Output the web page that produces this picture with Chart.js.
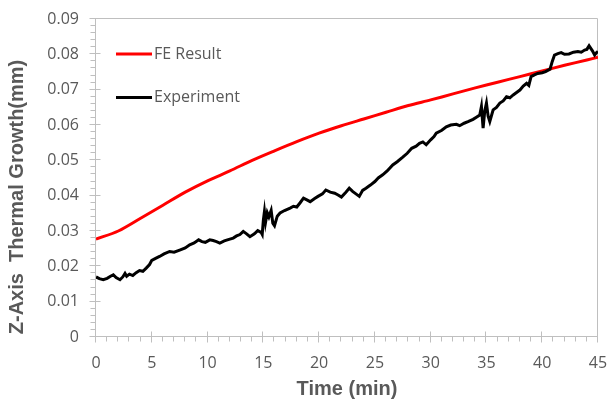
<!DOCTYPE html>
<html><head><meta charset="utf-8">
<script src="https://cdn.jsdelivr.net/npm/chart.js@4"></script>
<style>html,body{margin:0;padding:0;background:#fff}canvas{display:block}</style>
</head><body>
<canvas id="c" width="609" height="403"></canvas>
<script>
// ---- data ----
const feTime  = [0, 2, 4, 6, 8, 10, 12, 14, 16, 18, 20, 22, 24, 26, 28, 30, 32, 34, 36, 38, 40, 42, 44, 45];
const feValue = [0.0277, 0.0300, 0.0336, 0.0373, 0.0410, 0.0442, 0.0470, 0.0500, 0.0527, 0.0553, 0.0577, 0.0598, 0.0617, 0.0636, 0.0655, 0.0671, 0.0688, 0.0705, 0.0721, 0.0737, 0.0753, 0.0769, 0.0784, 0.0792];

const expTime = [0.0,0.3,0.65,1.0,1.3,1.55,1.8,2.15,2.4,2.6,2.75,3.0,3.3,3.6,3.9,4.2,4.5,4.8,5.0,5.3,5.7,6.1,6.6,7.0,7.5,8.0,8.4,8.8,9.2,9.5,9.8,10.2,10.5,10.8,11.1,11.5,12.0,12.3,12.6,12.9,13.2,13.5,13.8,14.2,14.5,14.8,14.9,15.0,15.1,15.2,15.35,15.5,15.7,15.85,16.0,16.25,16.5,16.9,17.4,17.7,18.0,18.3,18.6,18.9,19.2,19.6,19.9,20.3,20.6,21.0,21.4,21.7,22.0,22.4,22.7,23.0,23.3,23.6,23.9,24.2,24.6,25.0,25.3,25.7,26.1,26.6,27.0,27.5,27.9,28.3,28.7,29.0,29.3,29.6,30.0,30.3,30.5,31.0,31.4,31.8,32.3,32.6,33.0,33.4,33.8,34.1,34.4,34.55,34.7,34.85,35.0,35.15,35.3,35.6,35.9,36.2,36.5,36.8,37.1,37.4,37.7,38.0,38.3,38.6,38.8,39.0,39.3,39.6,40.0,40.3,40.7,40.9,41.1,41.4,41.7,42.0,42.4,42.8,43.2,43.5,43.8,44.0,44.2,44.5,44.7,44.85,45.0];
const expValue = [0.0170,0.0165,0.0162,0.0166,0.0172,0.0176,0.0168,0.0162,0.0170,0.0180,0.0172,0.0178,0.0174,0.0182,0.0188,0.0186,0.0195,0.0205,0.0217,0.0222,0.0228,0.0235,0.0242,0.0240,0.0246,0.0252,0.0261,0.0266,0.0275,0.0270,0.0268,0.0275,0.0273,0.0270,0.0266,0.0272,0.0277,0.0280,0.0286,0.0290,0.0299,0.0292,0.0284,0.0292,0.0301,0.0296,0.0290,0.0330,0.0355,0.0325,0.0352,0.0340,0.0358,0.0322,0.0315,0.0342,0.0351,0.0358,0.0365,0.0370,0.0368,0.0380,0.0393,0.0388,0.0383,0.0392,0.0398,0.0405,0.0416,0.0410,0.0407,0.0402,0.0396,0.0410,0.0421,0.0412,0.0405,0.0398,0.0415,0.0421,0.0430,0.0440,0.0450,0.0459,0.0470,0.0487,0.0496,0.0509,0.0520,0.0534,0.0540,0.0548,0.0552,0.0544,0.0558,0.0567,0.0577,0.0585,0.0595,0.0600,0.0602,0.0598,0.0605,0.0610,0.0616,0.0622,0.0628,0.0652,0.0591,0.0640,0.0662,0.0625,0.0610,0.0643,0.0650,0.0662,0.0668,0.0680,0.0677,0.0685,0.0692,0.0699,0.0710,0.0718,0.0712,0.0737,0.0742,0.0746,0.0748,0.0751,0.0758,0.0780,0.0798,0.0802,0.0805,0.0800,0.0801,0.0806,0.0808,0.0806,0.0812,0.0814,0.0824,0.0810,0.0798,0.0804,0.0808];

const seriesNames = ['FE Result', 'Experiment'];
const xTitle = 'Time (min)';
const yTitle = 'Z-Axis  Thermal Growth(mm)';
const xMin = 0, xMax = 45, xStep = 5, xMinor = 1;
const yMin = 0, yMax = 0.09, yStep = 0.01, yMinor = 0.002;

// ---- styles ----
const AXIS = '#bfbfbf';
const TEXT = '#595959';
const RED = '#ff0000';
const BLACK = '#000000';

const toPts = (xs, ys) => xs.map((t, i) => ({x: t, y: ys[i]}));

const axesPlugin = {
  id: 'axesPlugin',
  beforeDatasetsDraw(chart) {
    const {ctx, chartArea: a, scales: {x, y}} = chart;
    ctx.save();
    ctx.strokeStyle = AXIS;
    ctx.lineWidth = 1;
    const L = Math.round(a.left) - 0.5, R = Math.round(a.right) - 0.5;
    const T = Math.round(a.top) - 0.5, B = Math.round(a.bottom) - 0.5;
    ctx.beginPath();
    ctx.rect(L, T, R - L, B - T);
    const nx = Math.round((xMax - xMin) / xMinor);
    for (let i = 0; i <= nx; i++) {
      const v = xMin + i * xMinor;
      const px = Math.round(x.getPixelForValue(v)) - 0.5;
      const major = Math.abs(v / xStep - Math.round(v / xStep)) < 1e-9;
      ctx.moveTo(px, major ? B - 5 : B);
      ctx.lineTo(px, B + (major ? 6 : 5));
    }
    const ny = Math.round((yMax - yMin) / yMinor);
    for (let i = 0; i <= ny; i++) {
      const v = yMin + i * yMinor;
      const py = Math.round(y.getPixelForValue(v)) - 0.5;
      const major = i % Math.round(yStep / yMinor) === 0;
      ctx.moveTo(L - (major ? 6 : 5), py);
      ctx.lineTo(major ? L + 5 : L, py);
    }
    ctx.stroke();
    ctx.restore();
  },
  afterDraw(chart) {
    const {ctx, chartArea: a} = chart;
    ctx.save();
    const ds = chart.data.datasets;
    ds.forEach((d, i) => {
      const ly = a.top + 35 + i * 43.5;
      const lx = a.left + 20;
      ctx.strokeStyle = d.borderColor;
      ctx.lineWidth = 3;
      ctx.beginPath();
      ctx.moveTo(lx, ly);
      ctx.lineTo(lx + 36, ly);
      ctx.stroke();
      ctx.fillStyle = TEXT;
      ctx.font = '16px "Open Sans"';
      ctx.textAlign = 'left';
      ctx.textBaseline = 'middle';
      ctx.fillText(d.label, lx + 38, ly);
    });
    ctx.translate(17.5, (a.top + a.bottom) / 2 + 19);
    ctx.rotate(-Math.PI / 2);
    ctx.fillStyle = TEXT;
    ctx.font = 'bold 20px "Liberation Sans"';
    ctx.textAlign = 'center';
    ctx.textBaseline = 'middle';
    ctx.fillText(yTitle, 0, 0);
    ctx.restore();
  }
};

new Chart(document.getElementById('c'), {
  type: 'line',
  data: {
    datasets: [
      {label: seriesNames[0], data: toPts(feTime, feValue), borderColor: RED, backgroundColor: RED,
       borderWidth: 3, pointRadius: 0, tension: 0.3, order: 1},
      {label: seriesNames[1], data: toPts(expTime, expValue), borderColor: BLACK, backgroundColor: BLACK,
       borderWidth: 3, pointRadius: 0, tension: 0, order: 0}
    ]
  },
  options: {
    responsive: false,
    animation: false,
    devicePixelRatio: 1,
    layout: {padding: {top: 19, right: 11, left: 0, bottom: 0}},
    plugins: {legend: {display: false}, tooltip: {enabled: false}},
    scales: {
      x: {
        type: 'linear', min: xMin, max: xMax,
        grid: {display: false, drawTicks: false},
        border: {display: false},
        ticks: {stepSize: xStep, color: TEXT, font: {family: 'Open Sans', size: 16}, padding: 17,
                callback: v => String(v)},
        title: {display: true, text: xTitle, color: TEXT,
                font: {family: 'Liberation Sans', size: 20, weight: 'bold'}, padding: {top: 0, bottom: 2}},
        afterFit: s => { s.height = 66; s.paddingLeft = 0; s.paddingRight = 0; }
      },
      y: {
        type: 'linear', min: yMin, max: yMax,
        grid: {display: false, drawTicks: false},
        border: {display: false},
        ticks: {stepSize: yStep, color: TEXT, font: {family: 'Open Sans', size: 16}, padding: 17,
                callback: v => (Math.abs(v) < 1e-12 ? '0' : v.toFixed(2))},
        afterFit: s => { s.width = 96; s.paddingTop = 0; s.paddingBottom = 0; }
      }
    }
  },
  plugins: [axesPlugin]
});
</script>
</body></html>
